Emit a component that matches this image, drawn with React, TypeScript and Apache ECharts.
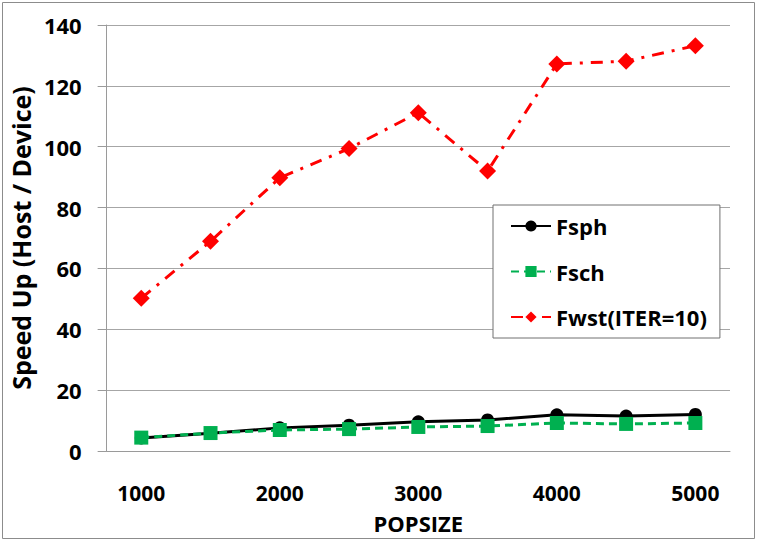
import React, { useEffect, useRef } from "react";
import * as echarts from "echarts";

const categories = ["1000", "1500", "2000", "2500", "3000", "3500", "4000", "4500", "5000"];
const fsph = [4.3, 5.8, 7.6, 8.5, 9.6, 10.2, 11.9, 11.5, 12.0];
const fsch = [4.4, 5.9, 6.9, 7.2, 7.9, 8.2, 9.2, 8.9, 9.2];
const fwst = [50.2, 68.9, 89.8, 99.4, 111.2, 92.0, 127.2, 128.1, 133.2];
const yTicks = { min: 0, max: 140, interval: 20 };

const FONT = "'Open Sans', Lato, sans-serif";

export default function App() {
  const ref = useRef<HTMLDivElement>(null);
  useEffect(() => {
    document.body.style.margin = "0";
    const chart = echarts.init(ref.current!, null, { renderer: "svg" });
    chart.setOption({
      animation: false,
      backgroundColor: "#fff",
      textStyle: { fontFamily: FONT },
      graphic: [
        {
          type: "rect",
          shape: { x: 2.5, y: 2.5, width: 752, height: 536 },
          style: { fill: "none", stroke: "#8c8c8c", lineWidth: 1 },
          silent: true,
        },
      ],
      grid: { left: 106, right: 28, top: 25, bottom: 91, containLabel: false },
      legend: {
        orient: "vertical",
        left: 493,
        top: 205,
        padding: [10, 13, 10, 17],
        backgroundColor: "#fff",
        borderColor: "#707070",
        borderWidth: 1,
        itemGap: 23.5,
        itemWidth: 40,
        itemHeight: 14,
        textStyle: { fontSize: 22, fontWeight: "bold", color: "#000", fontFamily: FONT },
        data: ["Fsph", "Fsch", "Fwst(ITER=10)"],
      },
      xAxis: {
        type: "category",
        data: categories,
        boundaryGap: true,
        name: "POPSIZE",
        nameLocation: "middle",
        nameGap: 61,
        nameTextStyle: { fontSize: 22, fontWeight: "bold", color: "#000", fontFamily: FONT },
        axisLine: { lineStyle: { color: "#9a9a9a", width: 1 } },
        axisTick: { show: false },
        axisLabel: {
          interval: 1,
          margin: 31,
          fontSize: 21,
          fontWeight: "bold",
          color: "#000",
          fontFamily: FONT,
        },
      },
      yAxis: {
        type: "value",
        min: yTicks.min,
        max: yTicks.max,
        interval: yTicks.interval,
        name: "Speed Up (Host / Device)",
        nameLocation: "middle",
        nameGap: 69,
        nameTextStyle: { fontSize: 25, fontWeight: "bold", color: "#000", fontFamily: FONT },
        axisLine: { show: true, lineStyle: { color: "#9a9a9a", width: 1 } },
        axisTick: { show: true, length: 9, lineStyle: { color: "#9a9a9a" } },
        splitLine: { lineStyle: { color: "#a6a6a6", width: 1 } },
        axisLabel: {
          margin: 25,
          fontSize: 22,
          fontWeight: "bold",
          color: "#000",
          fontFamily: FONT,
        },
      },
      series: [
        {
          name: "Fsph",
          type: "line",
          data: fsph,
          symbol: "circle",
          symbolSize: 13,
          itemStyle: { color: "#000" },
          lineStyle: { color: "#000", width: 3 },
          z: 2,
        },
        {
          name: "Fsch",
          type: "line",
          data: fsch,
          symbol: "rect",
          symbolSize: 14,
          itemStyle: { color: "#00B050" },
          lineStyle: { color: "#00B050", width: 3, type: [8, 5] },
          z: 3,
        },
        {
          name: "Fwst(ITER=10)",
          type: "line",
          data: fwst,
          symbol: "diamond",
          symbolSize: 17,
          itemStyle: { color: "#FF0000" },
          lineStyle: { color: "#FF0000", width: 3, type: [12, 8, 3, 8] },
          z: 4,
        },
      ],
    });
    return () => chart.dispose();
  }, []);
  return <div ref={ref} style={{ position: "fixed", left: 0, top: 0, width: 758, height: 542 }} />;
}
